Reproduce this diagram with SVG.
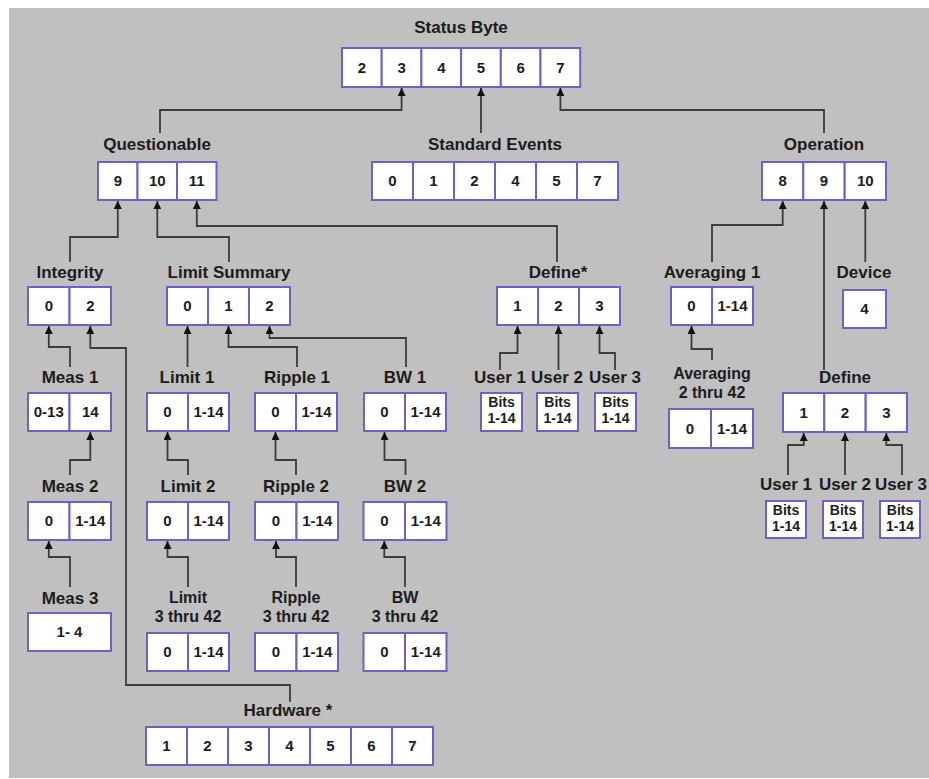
<svg xmlns="http://www.w3.org/2000/svg" width="929" height="779" viewBox="0 0 929 779">
<style>
.bg{fill:#c0c0c0}
.c{fill:#fff;stroke:#6f5fc7;stroke-width:2}
.l{font-family:"Liberation Sans",Arial,sans-serif;font-weight:bold;font-size:17px;fill:#1c1c1c;text-anchor:middle}
.l2{font-family:"Liberation Sans",Arial,sans-serif;font-weight:bold;font-size:16px;fill:#1c1c1c;text-anchor:middle}
.n{font-family:"Liberation Sans",Arial,sans-serif;font-weight:bold;font-size:15px;fill:#1c1c1c;text-anchor:middle}
.b{font-family:"Liberation Sans",Arial,sans-serif;font-weight:bold;font-size:14px;fill:#1c1c1c;text-anchor:middle}
.w{fill:none;stroke:#3c3c3c;stroke-width:1.8;marker-end:url(#arr)}
</style>
<defs>
<marker id="arr" viewBox="0 0 10 10" refX="10" refY="5" markerWidth="8" markerHeight="8" markerUnits="userSpaceOnUse" orient="auto">
<path d="M0,0 L10,5 L0,10 z" fill="#111"/>
</marker>
</defs>
<rect x="0" y="0" width="929" height="779" fill="#fff"/>
<rect class="bg" x="9" y="8" width="920" height="770"/>

<g id="connectors">
<path class="w" d="M160,133 V110 H401.6 V88"/>
<path class="w" d="M481,133 V88"/>
<path class="w" d="M824,133 V110 H560.4 V88"/>
<path class="w" d="M70,262 V237 H117.8 V201"/>
<path class="w" d="M229,262 V237 H157.3 V201"/>
<path class="w" d="M557,262 V226 H196.8 V201"/>
<path class="w" d="M712,262 V225 H782.7 V201"/>
<path class="w" d="M824,370 V201"/>
<path class="w" d="M865.3,262 V201"/>
<path class="w" d="M70,367 V347 H48.8 V326"/>
<path class="w" d="M290,702 V685 H126 V348 H90.3 V326"/>
<path class="w" d="M187.5,367 V326"/>
<path class="w" d="M297,367 V347 H228.5 V326"/>
<path class="w" d="M406,367 V338 H269.5 V326"/>
<path class="w" d="M500,370 V353 H517.5 V326"/>
<path class="w" d="M558.5,370 V326"/>
<path class="w" d="M615,370 V353 H599.5 V326"/>
<path class="w" d="M712,360 V349 H691.5 V326"/>
<path class="w" d="M70,475 V460 H90.3 V432"/>
<path class="w" d="M188,475 V460 H167.5 V432"/>
<path class="w" d="M296,475 V460 H275.5 V432"/>
<path class="w" d="M405.5,475 V460 H384.5 V432"/>
<path class="w" d="M70,587 V557 H48.8 V541"/>
<path class="w" d="M188,587 V557 H167.5 V541"/>
<path class="w" d="M296,587 V557 H276 V541"/>
<path class="w" d="M405,587 V557 H384.3 V541"/>
<path class="w" d="M788,475 V445 H803.7 V433"/>
<path class="w" d="M845,475 V433"/>
<path class="w" d="M902,475 V445 H886.3 V433"/>
</g>

<g id="status-byte">
<text class="l" x="461" y="33">Status Byte</text>
<rect class="c" x="342" y="48" width="39.7" height="39"/>
<rect class="c" x="381.7" y="48" width="39.7" height="39"/>
<rect class="c" x="421.4" y="48" width="39.7" height="39"/>
<rect class="c" x="461.1" y="48" width="39.7" height="39"/>
<rect class="c" x="500.8" y="48" width="39.7" height="39"/>
<rect class="c" x="540.5" y="48" width="39.7" height="39"/>
<text class="n" x="361.9" y="73">2</text>
<text class="n" x="401.6" y="73">3</text>
<text class="n" x="441.3" y="73">4</text>
<text class="n" x="481" y="73">5</text>
<text class="n" x="520.7" y="73">6</text>
<text class="n" x="560.4" y="73">7</text>
</g>

<g id="questionable">
<text class="l" x="157" y="150">Questionable</text>
<rect class="c" x="98" y="162" width="39.5" height="38"/>
<rect class="c" x="137.5" y="162" width="39.5" height="38"/>
<rect class="c" x="177" y="162" width="39.5" height="38"/>
<text class="n" x="117.8" y="186">9</text>
<text class="n" x="157.3" y="186">10</text>
<text class="n" x="196.8" y="186">11</text>
</g>

<g id="standard-events">
<text class="l" x="495" y="150">Standard Events</text>
<rect class="c" x="372" y="162" width="41" height="38"/>
<rect class="c" x="413" y="162" width="41" height="38"/>
<rect class="c" x="454" y="162" width="41" height="38"/>
<rect class="c" x="495" y="162" width="41" height="38"/>
<rect class="c" x="536" y="162" width="41" height="38"/>
<rect class="c" x="577" y="162" width="41" height="38"/>
<text class="n" x="392.5" y="186">0</text>
<text class="n" x="433.5" y="186">1</text>
<text class="n" x="474.5" y="186">2</text>
<text class="n" x="515.5" y="186">4</text>
<text class="n" x="556.5" y="186">5</text>
<text class="n" x="597.5" y="186">7</text>
</g>

<g id="operation">
<text class="l" x="824" y="150">Operation</text>
<rect class="c" x="762" y="162" width="41.3" height="38"/>
<rect class="c" x="803.3" y="162" width="41.3" height="38"/>
<rect class="c" x="844.7" y="162" width="41.3" height="38"/>
<text class="n" x="782.7" y="186">8</text>
<text class="n" x="824" y="186">9</text>
<text class="n" x="865.3" y="186">10</text>
</g>

<g id="integrity">
<text class="l" x="70" y="278">Integrity</text>
<rect class="c" x="28" y="287" width="41.5" height="38"/>
<rect class="c" x="69.5" y="287" width="41.5" height="38"/>
<text class="n" x="48.8" y="311">0</text>
<text class="n" x="90.3" y="311">2</text>
</g>

<g id="limit-summary">
<text class="l" x="229" y="278">Limit Summary</text>
<rect class="c" x="167" y="287" width="41" height="38"/>
<rect class="c" x="208" y="287" width="41" height="38"/>
<rect class="c" x="249" y="287" width="41" height="38"/>
<text class="n" x="187.5" y="311">0</text>
<text class="n" x="228.5" y="311">1</text>
<text class="n" x="269.5" y="311">2</text>
</g>

<g id="define-q">
<text class="l" x="558" y="278">Define*</text>
<rect class="c" x="497" y="287" width="41" height="38"/>
<rect class="c" x="538" y="287" width="41" height="38"/>
<rect class="c" x="579" y="287" width="41" height="38"/>
<text class="n" x="517.5" y="311">1</text>
<text class="n" x="558.5" y="311">2</text>
<text class="n" x="599.5" y="311">3</text>
</g>

<g id="averaging-1">
<text class="l" x="712" y="278">Averaging 1</text>
<rect class="c" x="671" y="287" width="41" height="38"/>
<rect class="c" x="712" y="287" width="41" height="38"/>
<text class="n" x="691.5" y="311">0</text>
<text class="n" x="732.5" y="311">1-14</text>
</g>

<g id="device">
<text class="l" x="864" y="278">Device</text>
<rect class="c" x="843" y="290" width="43" height="38"/>
<text class="n" x="864.5" y="314">4</text>
</g>

<g id="meas-1">
<text class="l" x="70" y="383">Meas 1</text>
<rect class="c" x="28" y="393" width="41.5" height="38"/>
<rect class="c" x="69.5" y="393" width="41.5" height="38"/>
<text class="n" x="48.8" y="417">0-13</text>
<text class="n" x="90.3" y="417">14</text>
</g>

<g id="limit-1">
<text class="l" x="187" y="383">Limit 1</text>
<rect class="c" x="147" y="393" width="41" height="38"/>
<rect class="c" x="188" y="393" width="41" height="38"/>
<text class="n" x="167.5" y="417">0</text>
<text class="n" x="208.5" y="417">1-14</text>
</g>

<g id="ripple-1">
<text class="l" x="297" y="383">Ripple 1</text>
<rect class="c" x="255" y="393" width="41" height="38"/>
<rect class="c" x="296" y="393" width="41" height="38"/>
<text class="n" x="275.5" y="417">0</text>
<text class="n" x="316.5" y="417">1-14</text>
</g>

<g id="bw-1">
<text class="l" x="405" y="383">BW 1</text>
<rect class="c" x="364" y="393" width="41" height="38"/>
<rect class="c" x="405" y="393" width="41" height="38"/>
<text class="n" x="384.5" y="417">0</text>
<text class="n" x="425.5" y="417">1-14</text>
</g>

<g id="q-user-1">
<text class="l" x="500" y="383">User 1</text>
<rect class="c" x="481" y="393" width="41" height="38"/>
<text class="b" x="501.5" y="407">Bits</text>
<text class="b" x="501.5" y="423">1-14</text>
</g>
<g id="q-user-2">
<text class="l" x="557" y="383">User 2</text>
<rect class="c" x="537" y="393" width="41" height="38"/>
<text class="b" x="557.5" y="407">Bits</text>
<text class="b" x="557.5" y="423">1-14</text>
</g>
<g id="q-user-3">
<text class="l" x="615" y="383">User 3</text>
<rect class="c" x="595" y="393" width="41" height="38"/>
<text class="b" x="615.5" y="407">Bits</text>
<text class="b" x="615.5" y="423">1-14</text>
</g>

<g id="averaging-2-42">
<text class="l2" x="712" y="379">Averaging</text>
<text class="l2" x="712" y="398">2 thru 42</text>
<rect class="c" x="669" y="409" width="42" height="39"/>
<rect class="c" x="711" y="409" width="42" height="39"/>
<text class="n" x="690" y="434">0</text>
<text class="n" x="732" y="434">1-14</text>
</g>

<g id="define-op">
<text class="l" x="845" y="383">Define</text>
<rect class="c" x="783" y="393" width="41.3" height="39"/>
<rect class="c" x="824.3" y="393" width="41.3" height="39"/>
<rect class="c" x="865.7" y="393" width="41.3" height="39"/>
<text class="n" x="803.7" y="418">1</text>
<text class="n" x="845" y="418">2</text>
<text class="n" x="886.3" y="418">3</text>
</g>

<g id="op-user-1">
<text class="l" x="786" y="490">User 1</text>
<rect class="c" x="766" y="501" width="40" height="37"/>
<text class="b" x="786" y="515">Bits</text>
<text class="b" x="786" y="531">1-14</text>
</g>
<g id="op-user-2">
<text class="l" x="845" y="490">User 2</text>
<rect class="c" x="823" y="501" width="40" height="37"/>
<text class="b" x="843" y="515">Bits</text>
<text class="b" x="843" y="531">1-14</text>
</g>
<g id="op-user-3">
<text class="l" x="901" y="490">User 3</text>
<rect class="c" x="880" y="501" width="40" height="37"/>
<text class="b" x="900" y="515">Bits</text>
<text class="b" x="900" y="531">1-14</text>
</g>

<g id="meas-2">
<text class="l" x="70" y="492">Meas 2</text>
<rect class="c" x="28" y="502" width="41.5" height="38"/>
<rect class="c" x="69.5" y="502" width="41.5" height="38"/>
<text class="n" x="48.8" y="526">0</text>
<text class="n" x="90.3" y="526">1-14</text>
</g>

<g id="limit-2">
<text class="l" x="188" y="492">Limit 2</text>
<rect class="c" x="147" y="502" width="41" height="38"/>
<rect class="c" x="188" y="502" width="41" height="38"/>
<text class="n" x="167.5" y="526">0</text>
<text class="n" x="208.5" y="526">1-14</text>
</g>

<g id="ripple-2">
<text class="l" x="296" y="492">Ripple 2</text>
<rect class="c" x="255" y="502" width="41.5" height="38"/>
<rect class="c" x="296.5" y="502" width="41.5" height="38"/>
<text class="n" x="275.8" y="526">0</text>
<text class="n" x="317.3" y="526">1-14</text>
</g>

<g id="bw-2">
<text class="l" x="405" y="492">BW 2</text>
<rect class="c" x="363.5" y="502" width="41.5" height="38"/>
<rect class="c" x="405" y="502" width="41.5" height="38"/>
<text class="n" x="384.3" y="526">0</text>
<text class="n" x="425.8" y="526">1-14</text>
</g>

<g id="meas-3">
<text class="l" x="70" y="604">Meas 3</text>
<rect class="c" x="28" y="613" width="83" height="38"/>
<text class="n" x="69.5" y="637">1- 4</text>
</g>

<g id="limit-3-42">
<text class="l2" x="188" y="603">Limit</text>
<text class="l2" x="188" y="622">3 thru 42</text>
<rect class="c" x="147" y="633" width="41" height="38"/>
<rect class="c" x="188" y="633" width="41" height="38"/>
<text class="n" x="167.5" y="657">0</text>
<text class="n" x="208.5" y="657">1-14</text>
</g>

<g id="ripple-3-42">
<text class="l2" x="296" y="603">Ripple</text>
<text class="l2" x="296" y="622">3 thru 42</text>
<rect class="c" x="255" y="633" width="41.5" height="38"/>
<rect class="c" x="296.5" y="633" width="41.5" height="38"/>
<text class="n" x="275.8" y="657">0</text>
<text class="n" x="317.3" y="657">1-14</text>
</g>

<g id="bw-3-42">
<text class="l2" x="405" y="603">BW</text>
<text class="l2" x="405" y="622">3 thru 42</text>
<rect class="c" x="363.5" y="633" width="41.5" height="38"/>
<rect class="c" x="405" y="633" width="41.5" height="38"/>
<text class="n" x="384.3" y="657">0</text>
<text class="n" x="425.8" y="657">1-14</text>
</g>

<g id="hardware">
<text class="l" x="288" y="716">Hardware *</text>
<rect class="c" x="146" y="727" width="41" height="38"/>
<rect class="c" x="187" y="727" width="41" height="38"/>
<rect class="c" x="228" y="727" width="41" height="38"/>
<rect class="c" x="269" y="727" width="41" height="38"/>
<rect class="c" x="310" y="727" width="41" height="38"/>
<rect class="c" x="351" y="727" width="41" height="38"/>
<rect class="c" x="392" y="727" width="41" height="38"/>
<text class="n" x="166.5" y="751">1</text>
<text class="n" x="207.5" y="751">2</text>
<text class="n" x="248.5" y="751">3</text>
<text class="n" x="289.5" y="751">4</text>
<text class="n" x="330.5" y="751">5</text>
<text class="n" x="371.5" y="751">6</text>
<text class="n" x="412.5" y="751">7</text>
</g>
</svg>
